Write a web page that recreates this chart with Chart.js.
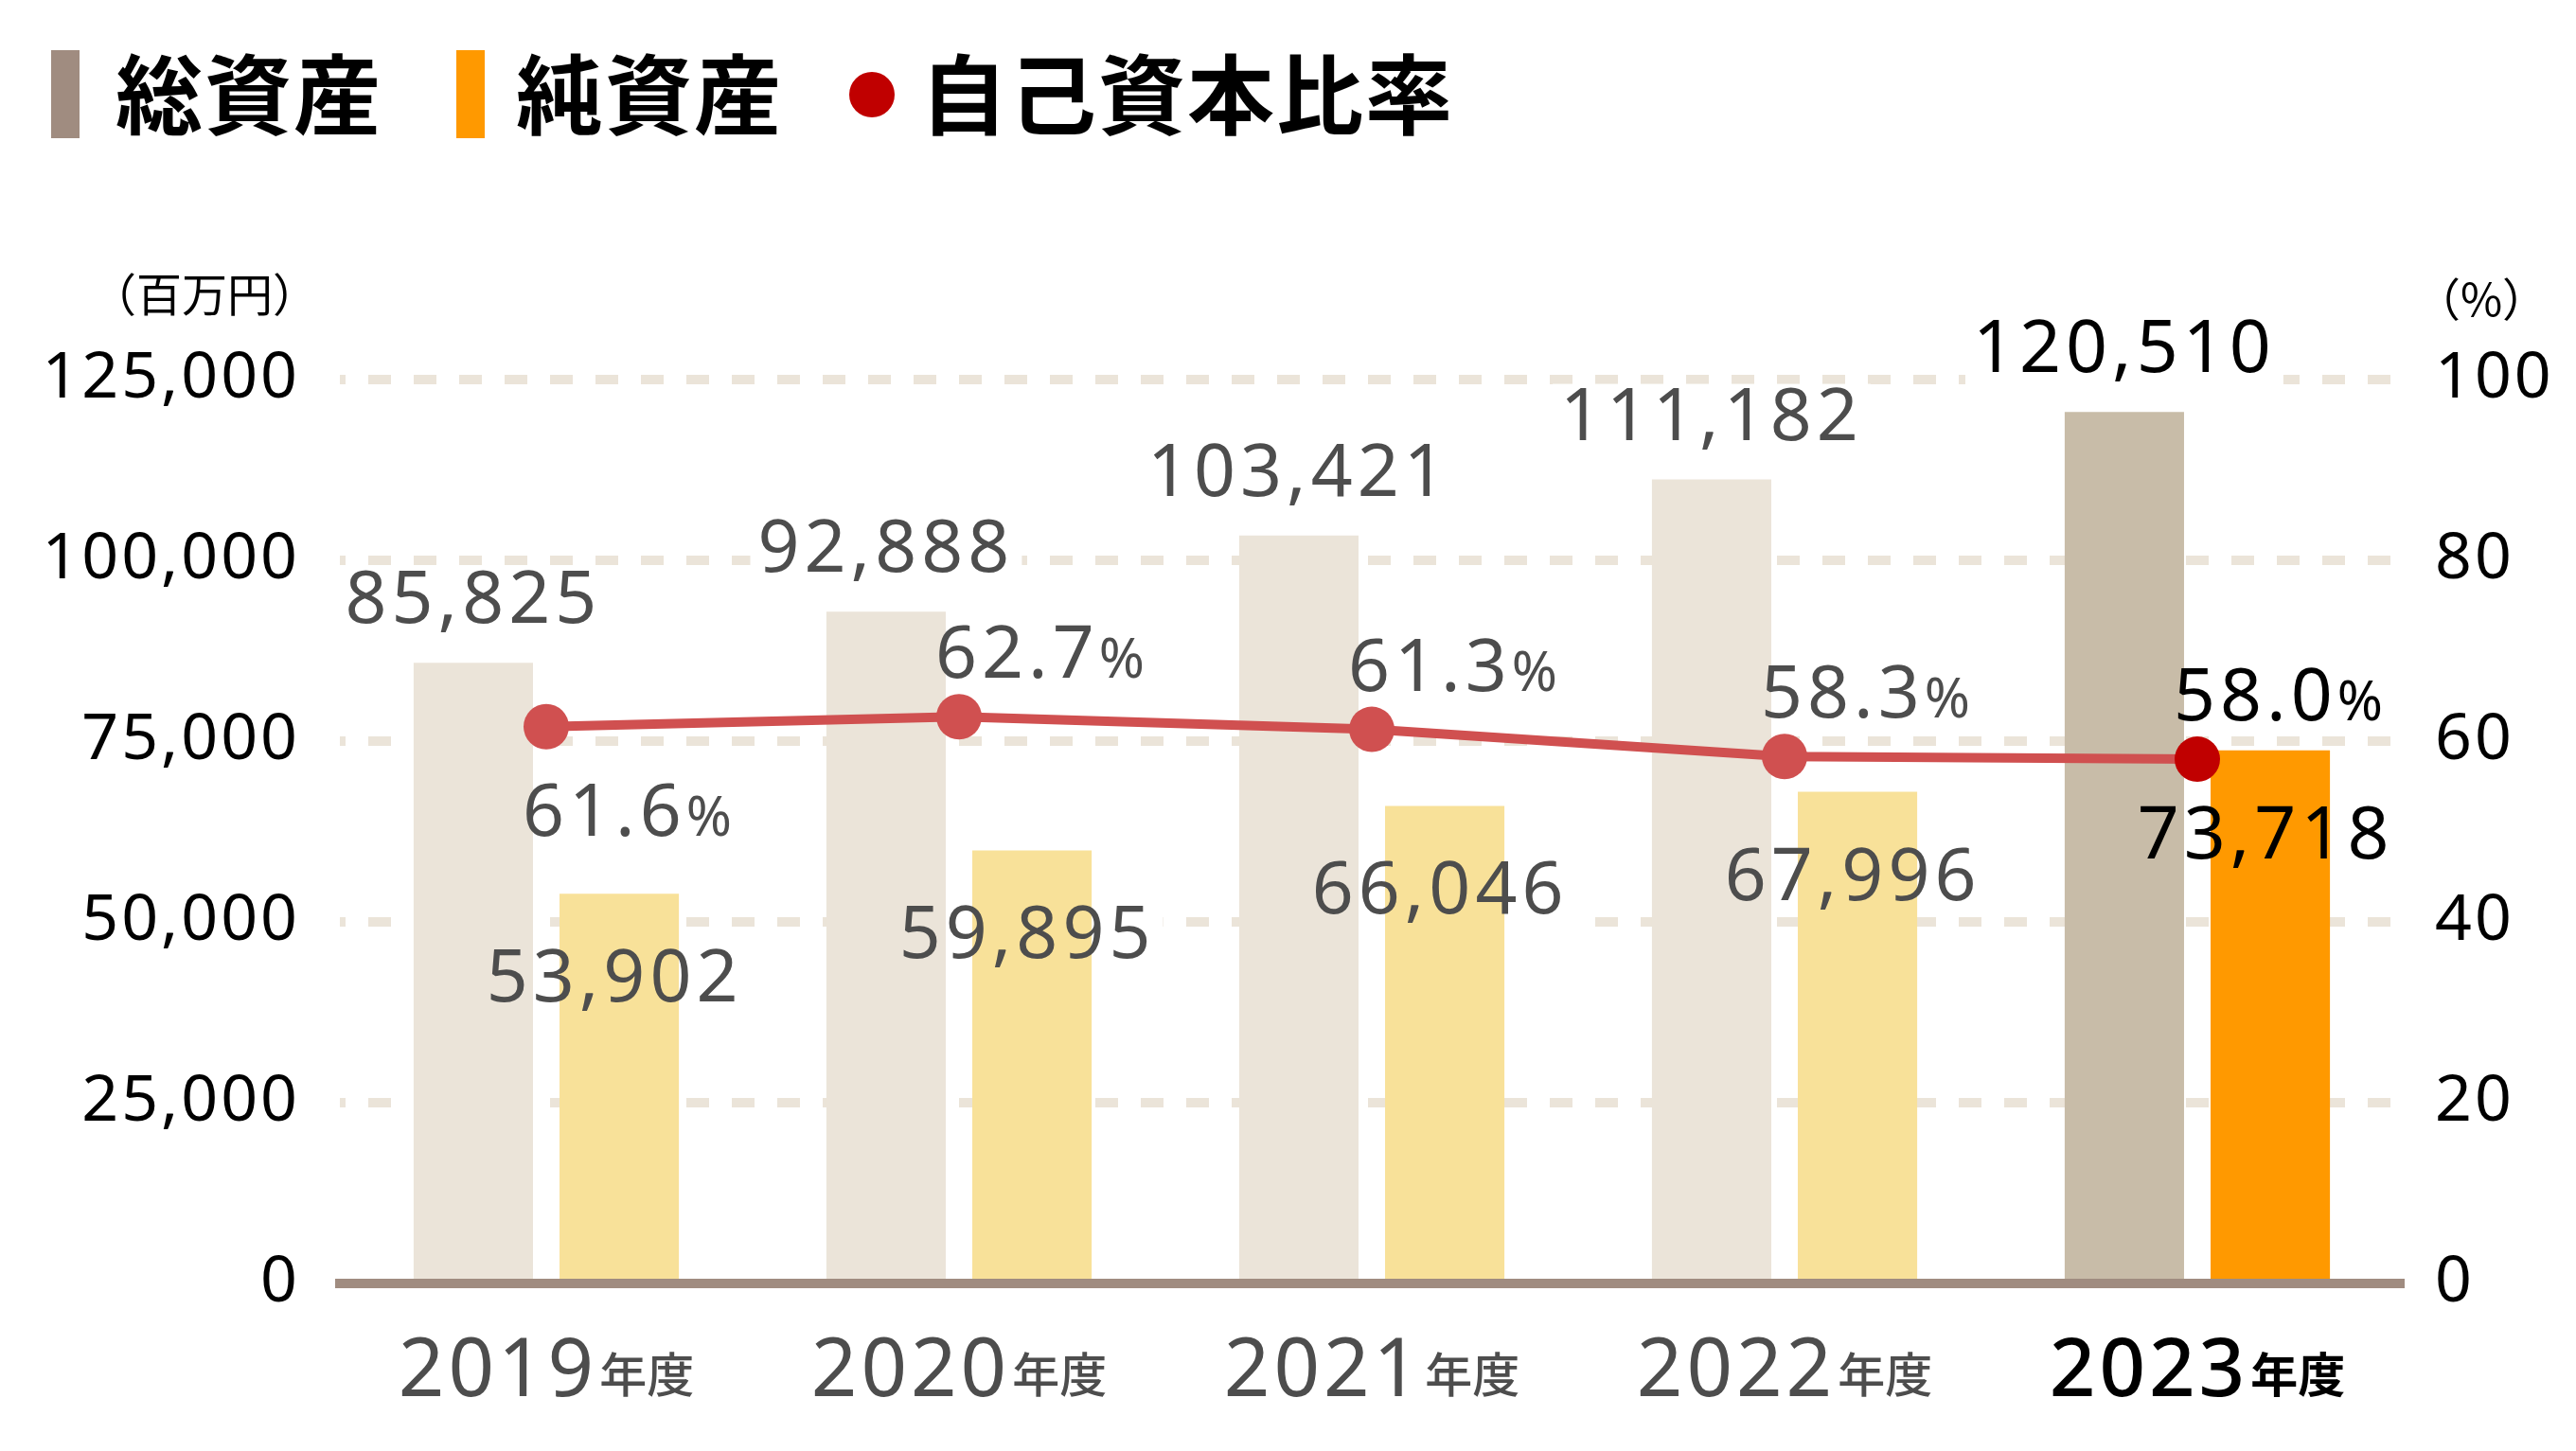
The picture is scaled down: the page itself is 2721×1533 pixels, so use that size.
<!DOCTYPE html>
<html lang="ja">
<head>
<meta charset="utf-8">
<title>総資産・純資産・自己資本比率</title>
<script src="https://cdn.jsdelivr.net/npm/chart.js@4.4.1/dist/chart.umd.min.js"></script>
<style>
  html, body { margin: 0; padding: 0; background: #fff; }
  #wrap { width: 2721px; height: 1533px; }
</style>
</head>
<body>
<div id="wrap"><canvas id="chart" width="2721" height="1533"></canvas></div>
<script>
// ---- data ----
const years = ['2019', '2020', '2021', '2022', '2023'];
const yearSuffix = '年度';
const totalAssets = [85825, 92888, 103421, 111182, 120510];
const netAssets = [53902, 59895, 66046, 67996, 73718];
const equityRatio = [61.6, 62.7, 61.3, 58.3, 58.0];
const leftTicks = [0, 25000, 50000, 75000, 100000, 125000];
const rightTicks = [0, 20, 40, 60, 80, 100];
const seriesNames = ['総資産', '純資産', '自己資本比率'];
const leftUnit = '（百万円）';
const rightUnit = '（%）';

// ---- styles ----
const NUM_FONT = "'Noto Sans', 'Noto Sans CJK JP', sans-serif";
const CJK_FONT = "'Noto Sans CJK JP', 'Noto Sans', sans-serif";
const GRAY = '#4d4d4d';
const GRID = '#ebe4d9';
const BASE = '#a08c80';
const LAST = years.length - 1;

const pick = (normal, hi) => years.map((_, i) => i === LAST ? hi : normal);
const fmt = v => v.toLocaleString('en-US');

// tick labels use a little tracking like the original
const trackingPlugin = {
    id: 'tracking',
    beforeDraw(chart) { chart.ctx.letterSpacing = '3px'; },
};

// ── legend drawn at top left ─────────────────────────────
const legendPlugin = {
    id: 'topLegend',
    afterDraw(chart) {
        const ctx = chart.ctx;
        const cy = 100;
        ctx.save();
        ctx.letterSpacing = '2px';
        ctx.font = `700 92px ${CJK_FONT}`;
        ctx.textBaseline = 'middle';
        // markers
        ctx.fillStyle = BASE;
        ctx.fillRect(54, 53, 30, 93);
        ctx.fillStyle = '#ff9900';
        ctx.fillRect(482, 53, 30, 93);
        ctx.fillStyle = '#c00000';
        ctx.beginPath();
        ctx.arc(921, cy, 24, 0, Math.PI * 2);
        ctx.fill();
        // names
        ctx.fillStyle = '#000';
        ctx.fillText(seriesNames[0], 122, cy);
        ctx.fillText(seriesNames[1], 545, cy);
        ctx.fillText(seriesNames[2], 972, cy);
        ctx.restore();
    },
};

// ── axis units + x labels ────────────────────────────────
const axisTextPlugin = {
    id: 'axisText',
    afterDraw(chart) {
        const ctx = chart.ctx;
        const xs = chart.scales.x;
        ctx.save();
        ctx.fillStyle = '#000';
        ctx.textBaseline = 'middle';
        ctx.textAlign = 'center';
        ctx.letterSpacing = '0px';
        ctx.font = `400 48px ${CJK_FONT}`;
        ctx.fillText(leftUnit, 216, 311);
        ctx.fillText(rightUnit, 2621, 316);

        ctx.textBaseline = 'alphabetic';
        ctx.textAlign = 'left';
        years.forEach((y, i) => {
            const cx = xs.getPixelForValue(i);
            const w = i === LAST ? 500 : 400;
            ctx.letterSpacing = '4px';
            ctx.font = `${w} 85px ${NUM_FONT}`;
            const w1 = ctx.measureText(y).width;
            ctx.letterSpacing = '0px';
            ctx.font = `${w + 100} 50px ${CJK_FONT}`;
            const w2 = ctx.measureText(yearSuffix).width;
            const gap = 2;
            const left = cx - (w1 + gap + w2) / 2;
            ctx.fillStyle = i === LAST ? '#000' : GRAY;
            ctx.letterSpacing = '4px';
            ctx.font = `${w} 85px ${NUM_FONT}`;
            ctx.fillText(y, left, 1475);
            ctx.letterSpacing = '0px';
            ctx.font = `${w + 100} 50px ${CJK_FONT}`;
            ctx.fillText(yearSuffix, left + w1 + gap, 1471);
        });
        ctx.restore();
    },
};

// ── data labels (white box behind, text on top) ──────────
function labelItems(chart) {
    const items = [];
    const mT = chart.getDatasetMeta(0).data;
    const mN = chart.getDatasetMeta(1).data;
    const mR = chart.getDatasetMeta(2).data;
    mT.forEach((el, i) => items.push({
        parts: [[fmt(totalAssets[i]), 77]], x: el.x, base: el.y - 42,
        color: i === LAST ? '#000' : GRAY,
    }));
    mN.forEach((el, i) => items.push({
        parts: [[fmt(netAssets[i]), 77]], x: el.x - 5, base: el.y + 114,
        color: i === LAST ? '#000' : GRAY,
    }));
    mR.forEach((el, i) => items.push({
        parts: [[equityRatio[i].toFixed(1), 77], ['%', 58]], x: el.x + 88,
        base: i === 0 ? el.y + 115 : el.y - 41,
        color: i === LAST ? '#000' : GRAY,
    }));
    return items;
}

function measureItem(ctx, it) {
    let total = 0;
    ctx.letterSpacing = '5px';
    const widths = it.parts.map(([t, s]) => {
        ctx.font = `400 ${s}px ${NUM_FONT}`;
        const w = ctx.measureText(t).width;
        total += w;
        return w;
    });
    return { total, widths };
}

const dataLabelPlugin = {
    id: 'dataLabels',
    beforeDatasetsDraw(chart) {
        const ctx = chart.ctx;
        ctx.save();
        ctx.fillStyle = '#fff';
        labelItems(chart).forEach(it => {
            const { total } = measureItem(ctx, it);
            const cap = it.parts[0][1] * 0.714;
            ctx.fillRect(it.x - total / 2 - 8, it.base - cap - 4, total + 16, cap + 20);
        });
        ctx.restore();
    },
    afterDatasetsDraw(chart) {
        const ctx = chart.ctx;
        ctx.save();
        ctx.textBaseline = 'alphabetic';
        ctx.textAlign = 'left';
        labelItems(chart).forEach(it => {
            const { total, widths } = measureItem(ctx, it);
            let x = it.x - total / 2;
            ctx.fillStyle = it.color;
            it.parts.forEach(([t, s], k) => {
                ctx.font = `400 ${s}px ${NUM_FONT}`;
                ctx.fillText(t, x, it.base);
                x += widths[k];
            });
        });
        ctx.restore();
    },
};

new Chart(document.getElementById('chart').getContext('2d'), {
    type: 'bar',
    data: {
        labels: years,
        datasets: [
            {
                label: seriesNames[0],
                data: totalAssets,
                backgroundColor: pick('#ebe4d9', '#c8bca8'),
                borderWidth: 0,
                barPercentage: 0.818,
                categoryPercentage: 0.707,
                yAxisID: 'y',
                order: 1,
            },
            {
                label: seriesNames[1],
                data: netAssets,
                backgroundColor: pick('#f8e199', '#ff9900'),
                borderWidth: 0,
                barPercentage: 0.818,
                categoryPercentage: 0.707,
                yAxisID: 'y',
                order: 1,
            },
            {
                type: 'line',
                label: seriesNames[2],
                data: equityRatio,
                yAxisID: 'y1',
                borderColor: '#d05050',
                borderWidth: 10,
                tension: 0,
                pointRadius: 24,
                pointHoverRadius: 24,
                pointBorderWidth: 0,
                pointBackgroundColor: pick('#d05050', '#c00000'),
                order: 0,
            },
        ],
    },
    options: {
        responsive: false,
        animation: false,
        layout: { padding: { top: 401, left: 0, right: 0, bottom: 0 } },
        plugins: { legend: { display: false }, tooltip: { enabled: false } },
        scales: {
            x: {
                offset: true,
                grid: { display: false },
                ticks: { display: false },
                border: { display: true, color: BASE, width: 10 },
                afterFit: s => { s.height = 177; },
            },
            y: {
                position: 'left',
                min: 0, max: 125000,
                afterBuildTicks: s => { s.ticks = leftTicks.map(v => ({ value: v })); },
                ticks: {
                    padding: 42,
                    color: '#000',
                    font: { family: NUM_FONT, size: 68 },
                    callback: v => fmt(v),
                },
                grid: {
                    drawTicks: false,
                    lineWidth: 10,
                    color: c => (c.tick && c.tick.value === 0) ? 'rgba(0,0,0,0)' : GRID,
                },
                border: { display: false, dash: [24, 24], dashOffset: 18 },
                afterFit: s => { s.width = 359; },
            },
            y1: {
                position: 'right',
                min: 0, max: 100,
                afterBuildTicks: s => { s.ticks = rightTicks.map(v => ({ value: v })); },
                ticks: {
                    padding: 33,
                    color: '#000',
                    font: { family: NUM_FONT, size: 68 },
                },
                grid: { display: false, drawTicks: false },
                border: { display: false },
                afterFit: s => { s.width = 182; },
            },
        },
    },
    plugins: [trackingPlugin, legendPlugin, axisTextPlugin, dataLabelPlugin],
});
</script>
</body>
</html>
